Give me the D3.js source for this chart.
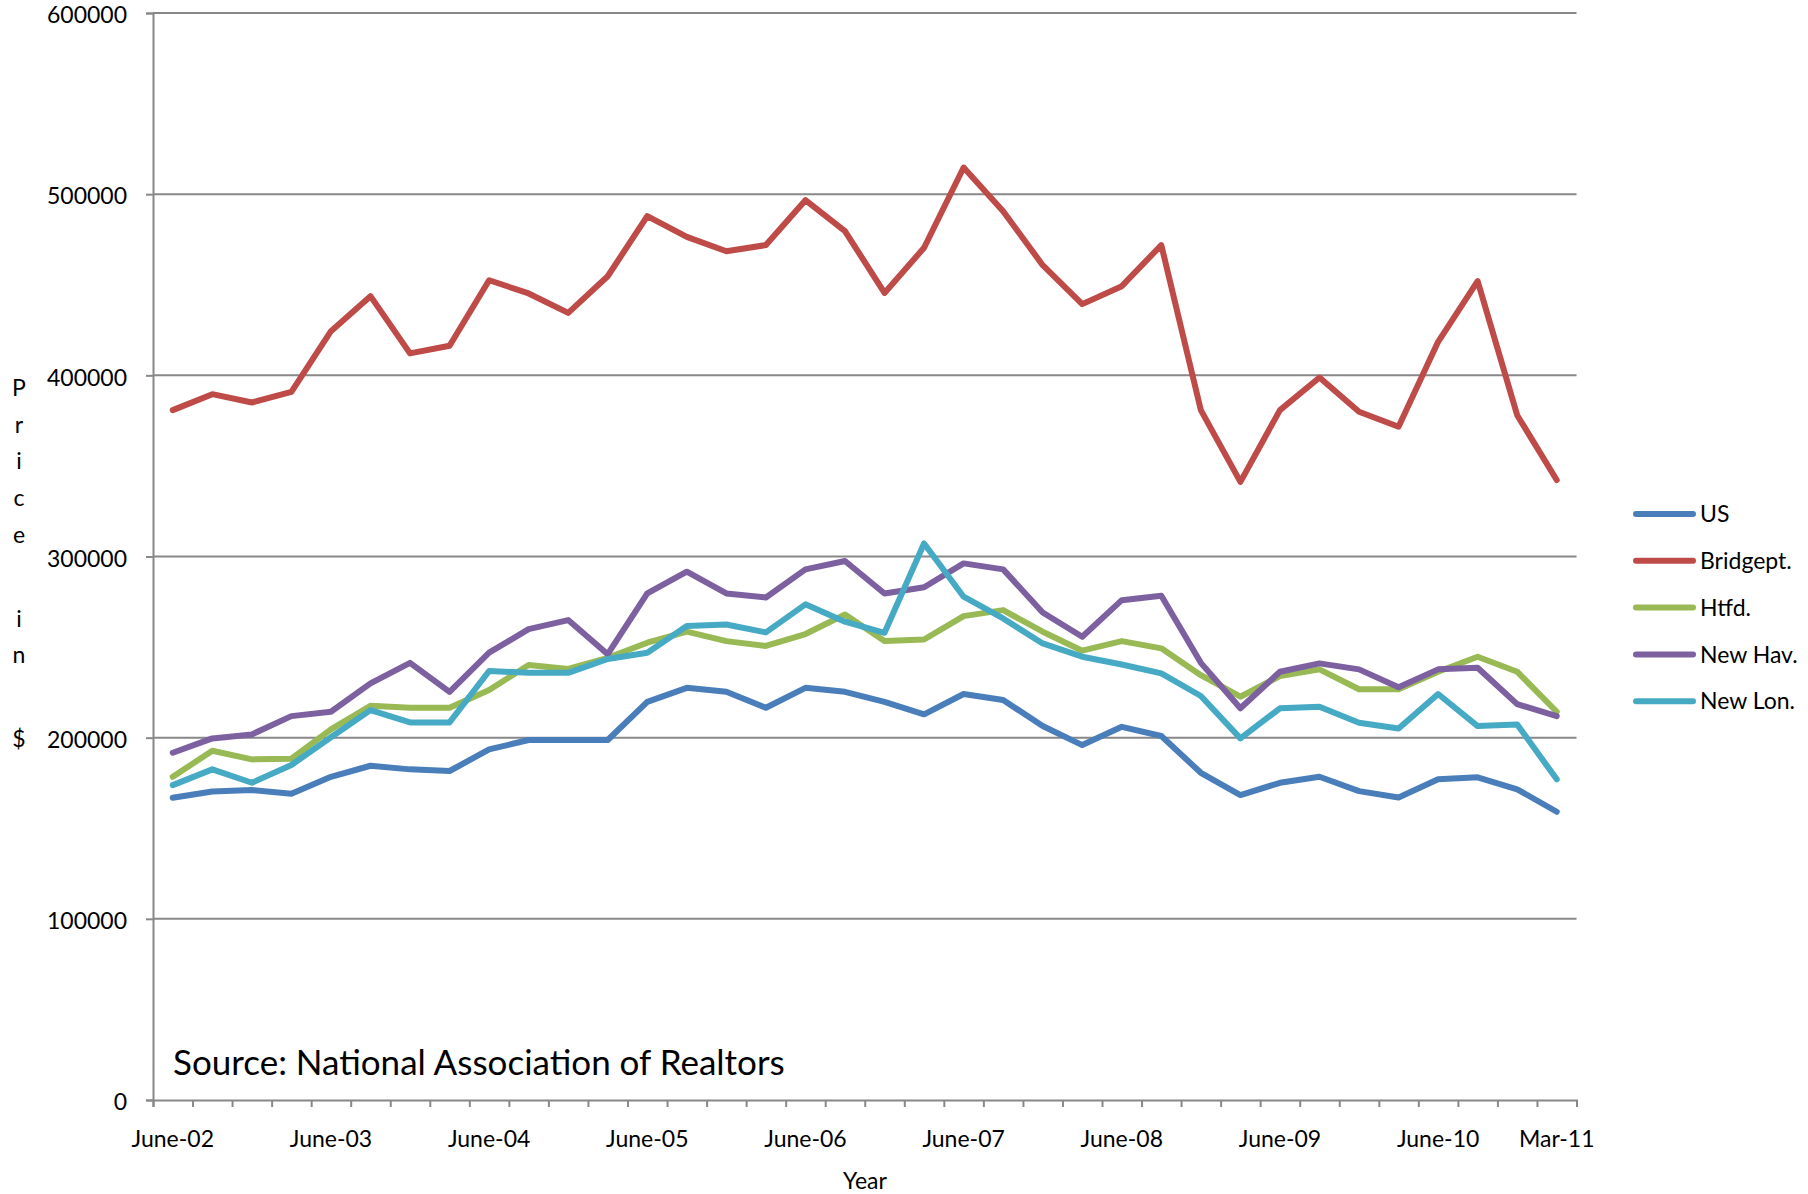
<!DOCTYPE html>
<html>
<head>
<meta charset="utf-8">
<script src="https://cdn.jsdelivr.net/npm/d3@7"></script>
<style>
	body { margin: 0; background: #fff; }
	text { font-family: Lato, "Open Sans", sans-serif; fill: #000; }
</style>
</head>
<body>
<div id="chart"></div>
<script>
var quarters = ["June-02", "Sept-02", "Dec-02", "Mar-03",
	"June-03", "Sept-03", "Dec-03", "Mar-04",
	"June-04", "Sept-04", "Dec-04", "Mar-05",
	"June-05", "Sept-05", "Dec-05", "Mar-06",
	"June-06", "Sept-06", "Dec-06", "Mar-07",
	"June-07", "Sept-07", "Dec-07", "Mar-08",
	"June-08", "Sept-08", "Dec-08", "Mar-09",
	"June-09", "Sept-09", "Dec-09", "Mar-10",
	"June-10", "Sept-10", "Dec-10", "Mar-11"
];

// only these category names are printed under the axis
var shownLabels = ["June-02", "June-03", "June-04", "June-05", "June-06",
	"June-07", "June-08", "June-09", "June-10", "Mar-11"];

var yTicks = [0, 100000, 200000, 300000, 400000, 500000, 600000];

var seriesNames = ["US", "Bridgept.", "Htfd.", "New Hav.", "New Lon."];
var seriesColors = ["#4a7ebb", "#be4b48", "#98b954", "#7d60a0", "#46aac5"];

var us = [166800, 170300, 171100, 169100, 178400, 184500, 182500, 181600, 193500,
	198700, 198700, 198700, 219800, 227500, 225300, 216500, 227500, 225300,
	219800, 212900, 224100, 220800, 206400, 195900, 206000, 200900, 180600,
	168300, 175100, 178400, 170500, 167000, 177000, 178100, 171500, 159100];

var bridgeport = [380800, 389600, 385000, 390900, 424400, 443700, 412100, 416300, 452500,
	445200, 434500, 454700, 487900, 476400, 468500, 471900, 496700, 479600,
	445500, 470400, 514700, 490600, 460800, 439300, 449200, 471900, 380800,
	341200, 380800, 398800, 379900, 371600, 418500, 452000, 378000, 342200];

var htfd = [178400, 192800, 188000, 188400, 204600, 217600, 216500, 216500, 226300,
	240100, 237900, 244100, 252400, 258500, 253300, 250600, 257200, 268000,
	253300, 254200, 267100, 270400, 258500, 248000, 253300, 249300, 234500,
	222600, 234000, 237700, 226700, 226700, 236400, 244700, 236400, 214300];

var newHaven = [191700, 199600, 201800, 211900, 214300, 230000, 241300, 225300, 246900,
	259900, 264900, 246100, 279600, 291600, 279600, 277400, 292900, 297500,
	279600, 283000, 296200, 292900, 269100, 255700, 275900, 278300, 241300,
	216200, 236400, 241000, 237700, 227800, 237700, 238600, 218500, 211900];

var newLondon = [173800, 182500, 175100, 184900, 200200, 215200, 208400, 208400, 236800,
	235800, 235800, 243400, 246900, 261600, 262500, 258100, 273600, 264000,
	257900, 307200, 277800, 265800, 252000, 244700, 240400, 235500, 223000,
	199600, 216200, 217100, 208200, 205100, 224100, 206400, 207300, 177000];

var allSeries = [us, bridgeport, htfd, newHaven, newLondon];

drawChart();

function drawChart() {
	const margin = {
		top: 13,
		right: 231.5,
		bottom: 94,
		left: 153
	};
	const fullWidth = 1808;
	const fullHeight = 1194;
	const width = fullWidth - margin.left - margin.right;
	const height = fullHeight - margin.top - margin.bottom;
	const gray = "#888888";

	const root = d3.select("#chart").append("svg")
		.attr("width", fullWidth)
		.attr("height", fullHeight);

	root.append("rect")
		.attr("width", fullWidth)
		.attr("height", fullHeight)
		.attr("fill", "#fff");

	const svg = root.append("g")
		.attr("transform", "translate(" + margin.left + "," + margin.top + ")");

	const xScale = d3.scaleBand()
		.domain(quarters)
		.range([0, width]);

	// tick marks sit on the borders between quarters
	const xEdges = d3.scaleLinear()
		.domain([0, quarters.length])
		.range([0, width]);

	const yScale = d3.scaleLinear()
		.domain([0, 600000])
		.range([height, 0]);

	// gridlines
	svg.append("g")
		.selectAll("line")
		.data(yTicks.filter(d => d > 0))
		.enter()
		.append("line")
		.attr("x1", 0)
		.attr("x2", width)
		.attr("y1", d => yScale(d))
		.attr("y2", d => yScale(d))
		.attr("stroke", gray)
		.attr("stroke-width", 2);

	const yAxis = d3.axisLeft(yScale)
		.tickValues(yTicks)
		.tickSize(7)
		.tickPadding(19)
		.tickFormat(d3.format("d"));

	const yg = svg.append("g")
		.attr("class", "yaxis")
		.call(yAxis);
	yg.selectAll("path, line").attr("stroke", gray).attr("stroke-width", 2);
	yg.selectAll("text")
		.style("font-size", "23px")
		.attr("dy", "0.42em");

	const xTicks = d3.axisBottom(xEdges)
		.tickValues(d3.range(quarters.length + 1))
		.tickSize(7)
		.tickFormat("");

	const xg = svg.append("g")
		.attr("class", "xaxis")
		.attr("transform", "translate(0," + height + ")")
		.call(xTicks);
	xg.selectAll("path, line").attr("stroke", gray).attr("stroke-width", 2);

	const xLabels = d3.axisBottom(xScale)
		.tickSize(0)
		.tickPadding(31)
		.tickFormat(d => shownLabels.indexOf(d) >= 0 ? d : "");

	const xl = svg.append("g")
		.attr("transform", "translate(0," + height + ")")
		.call(xLabels);
	xl.select(".domain").remove();
	xl.selectAll("text").style("font-size", "23px");

	// series lines
	const line = d3.line()
		.x((d, i) => xScale(quarters[i]) + xScale.bandwidth() / 2)
		.y(d => yScale(d));

	svg.selectAll(".series")
		.data(allSeries)
		.enter()
		.append("path")
		.attr("class", "series")
		.attr("d", d => line(d))
		.attr("fill", "none")
		.attr("stroke", (d, i) => seriesColors[i])
		.attr("stroke-width", 6)
		.attr("stroke-linejoin", "round")
		.attr("stroke-linecap", "round");

	// source note inside the plot
	svg.append("text")
		.attr("x", 20)
		.attr("y", 1062)
		.style("font-size", "35px")
		.text("Source: National Association of Realtors");

	// axis titles
	root.append("text")
		.attr("x", 865)
		.attr("y", 1189)
		.attr("text-anchor", "middle")
		.style("font-size", "23px")
		.text("Year");

	const yTitle = "Price in $".split("");
	var ty = 396;
	const ytg = root.append("g");
	yTitle.forEach(function(ch) {
		if (ch === " ") {
			ty += 47;
			return;
		}
		ytg.append("text")
			.attr("x", 19)
			.attr("y", ty)
			.attr("text-anchor", "middle")
			.style("font-size", "23px")
			.text(ch);
		ty += 36.7;
	});

	// legend
	const legend = root.append("g")
		.attr("transform", "translate(1636,514)");

	const rows = legend.selectAll(".row")
		.data(seriesNames)
		.enter()
		.append("g")
		.attr("class", "row")
		.attr("transform", (d, i) => "translate(0," + (i * 46.8) + ")");

	rows.append("line")
		.attr("x1", 0)
		.attr("x2", 57)
		.attr("stroke", (d, i) => seriesColors[i])
		.attr("stroke-width", 6)
		.attr("stroke-linecap", "round");

	rows.append("text")
		.attr("x", 64)
		.attr("dy", "0.36em")
		.style("font-size", "23px")
		.text(d => d);
}
</script>
</body>
</html>
